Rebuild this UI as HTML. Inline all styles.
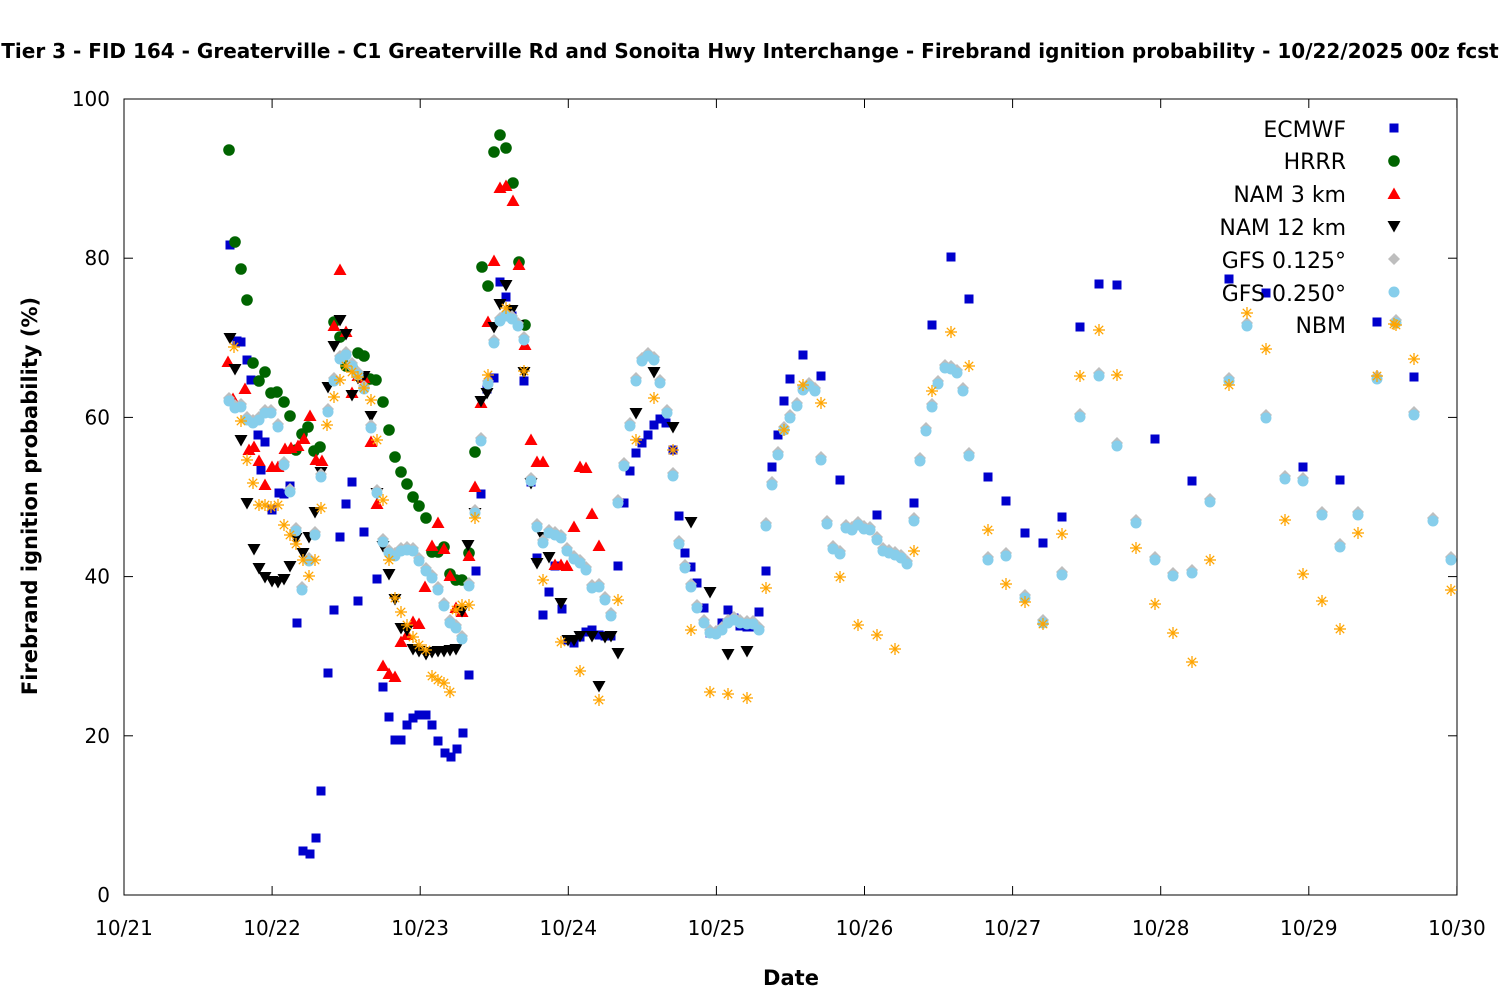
<!DOCTYPE html>
<html><head><meta charset="utf-8"><style>
html,body{margin:0;padding:0;background:#fff;}
svg{display:block;font-family:"DejaVu Sans","Liberation Sans",sans-serif;}
</style></head><body>
<svg id="s" width="1500" height="1000" xmlns="http://www.w3.org/2000/svg">
<rect width="1500" height="1000" fill="#fff"/>
<text x="750" y="58" font-size="20" font-weight="bold" text-anchor="middle">Tier 3 - FID 164 - Greaterville - C1 Greaterville Rd and Sonoita Hwy Interchange - Firebrand ignition probability - 10/22/2025 00z fcst</text>
<rect x="124" y="99" width="1333" height="796" fill="none" stroke="#000" stroke-width="1"/>
<g id="ticks" stroke="#000" stroke-width="1"></g>
<g id="labels" font-size="20" fill="#000"></g>
<text x="791" y="985" font-size="21" font-weight="bold" text-anchor="middle">Date</text>
<text transform="translate(37,496) rotate(-90)" font-size="21" font-weight="bold" text-anchor="middle">Firebrand ignition probability (%)</text>
<g id="data"></g>
<g font-size="22" text-anchor="end">
<text x="1346" y="137">ECMWF</text>
<text x="1346" y="169">HRRR</text>
<text x="1346" y="202">NAM 3 km</text>
<text x="1346" y="235">NAM 12 km</text>
<text x="1346" y="268">GFS 0.125°</text>
<text x="1346" y="301">GFS 0.250°</text>
<text x="1346" y="333">NBM</text>
</g>
<g id="leg"></g>
</svg>
<script>
var NS="http://www.w3.org/2000/svg";
function el(p,t,a){var e=document.createElementNS(NS,t);for(var k in a)e.setAttribute(k,a[k]);p.appendChild(e);return e;}
var tk=document.getElementById('ticks'),lb=document.getElementById('labels');
for(var i=0;i<=5;i++){var y=895-i*159.2;el(tk,'line',{x1:124,y1:y,x2:133,y2:y});el(tk,'line',{x1:1457,y1:y,x2:1448,y2:y});
var t=el(lb,'text',{x:110,y:y+7,'text-anchor':'end'});t.textContent=String(i*20);}
var days=['10/21','10/22','10/23','10/24','10/25','10/26','10/27','10/28','10/29','10/30'];
for(var i=0;i<10;i++){var x=124+i*148.1;el(tk,'line',{x1:x,y1:895,x2:x,y2:886});el(tk,'line',{x1:x,y1:99,x2:x,y2:108});
var t=el(lb,'text',{x:x,y:935,'text-anchor':'middle'});t.textContent=days[i];}
function P(s){return s.trim().split(/\s+/).map(function(q){return q.split(',').map(Number);});}
var g=document.getElementById('data');
function sq(p,x,y,c){el(p,'rect',{x:x-4.5,y:y-4.5,width:9,height:9,fill:c});}
function ci(p,x,y,c){el(p,'circle',{cx:x,cy:y,r:5.8,fill:c});}
function tu(p,x,y,c){el(p,'polygon',{points:(x)+','+(y-6.5)+' '+(x-6.5)+','+(y+5)+' '+(x+6.5)+','+(y+5),fill:c});}
function td(p,x,y,c){el(p,'polygon',{points:(x)+','+(y+6.5)+' '+(x-6.5)+','+(y-5)+' '+(x+6.5)+','+(y-5),fill:c});}
function di(p,x,y,c){el(p,'polygon',{points:x+','+(y-6)+' '+(x+6)+','+y+' '+x+','+(y+6)+' '+(x-6)+','+y,fill:c});}
function pe(p,x,y,c){el(p,'circle',{cx:x,cy:y,r:5.5,fill:c});}
function st(p,x,y,c){var r=6;[[r,0],[0,r],[r*0.7,r*0.7],[r*0.7,-r*0.7]].forEach(function(d){el(p,'line',{x1:x-d[0],y1:y-d[1],x2:x+d[0],y2:y+d[1],stroke:c,'stroke-width':1.3});});}
var ecm=P("230,245 237,341 241,342 247,360 251,380 258,435 261,470 265,442 272,510 279,493 284,494 290,486 297,623 303,851 310,854 316,838 321,791 328,673 334,610 340,537 346,504 352,482 358,601 364,532 377,579 383,687 389,717 395,740 401,740 407,725 413,718 419,715 426,715 432,725 438,741 445,753 451,757 457,749 463,733 469,675 476,571 481,494 487,389 494,378 500,282 506,297 512,316 518,325 524,381 531,482 537,558 543,615 549,592 555,566 562,609 568,640 574,643 580,637 586,632 592,630 599,635 605,636 611,636 618,566 624,503 630,471 636,453 642,443 648,435 654,425 660,419 666,423 673,450 679,516 685,553 691,567 697,583 704,608 710,633 716,633 722,623 728,610 734,618 740,626 747,627 753,627 759,612 766,571 772,467 778,435 784,401 790,379 803,355 821,376 840,480 877,515 914,503 932,325 951,257 969,299 988,477 1006,501 1025,533 1043,543 1062,517 1080,327 1099,284 1117,285 1155,439 1192,481 1229,279 1266,293 1303,467 1340,480 1377,322 1414,377");
var hrrr=P("229,150 235,242 241,269 247,300 253,363 259,381 265,372 271,393 277,392 284,402 290,416 296,450 302,434 308,427 314,451 320,447 334,322 340,337 346,366 352,367 358,353 364,356 370,379 376,380 383,402 389,430 395,457 401,472 407,484 413,497 419,506 426,518 432,552 438,552 444,547 450,574 456,580 462,580 469,553 475,452 482,267 488,286 494,152 500,135 506,148 513,183 519,262 525,325");
var n3=P("228,362 233,399 245,389 249,450 254,447 259,461 265,485 272,467 278,467 285,449 291,448 298,446 304,439 310,416 316,460 322,461 334,326 340,270 346,332 352,393 358,376 364,378 371,442 377,504 383,666 389,674 395,677 401,642 407,635 413,622 419,624 425,587 432,546 438,523 444,549 450,576 456,608 462,612 469,556 475,487 481,403 488,322 494,261 500,188 506,186 513,201 519,265 525,345 531,440 537,462 543,462 555,565 561,565 567,566 574,527 580,467 586,468 592,514 599,546");
var n12=P("230,338 235,369 241,440 247,503 254,549 259,568 265,577 272,581 278,582 284,579 290,566 296,538 303,553 309,537 315,512 321,472 328,387 334,346 340,320 346,334 352,395 358,378 364,376 371,416 377,493 383,546 389,574 395,599 401,628 407,630 413,649 419,651 426,654 432,652 438,651 444,651 450,650 456,649 462,611 468,545 475,513 481,401 487,393 494,327 500,304 506,285 512,310 518,325 524,372 531,483 537,563 543,537 549,557 561,603 568,640 574,640 580,636 592,636 599,686 605,637 611,636 618,653 636,413 654,372 673,427 691,522 710,592 728,654 747,651");
var gfs=P("229,398 235,405 241,404 247,417 253,420 259,417 265,410 271,410 278,424 284,462 290,489 296,528 302,587 309,558 315,532 321,474 328,409 334,378 340,356 346,352 352,363 358,372 364,386 371,425 377,490 383,539 389,550 395,553 401,548 407,547 413,548 419,558 426,568 432,575 438,587 444,603 450,620 456,625 462,636 469,583 475,510 481,438 488,381 494,340 500,318 506,313 512,316 518,323 524,337 531,478 537,524 543,540 549,530 555,532 561,535 567,548 574,556 580,560 586,567 592,585 599,584 605,597 611,613 618,500 624,463 630,423 636,378 642,358 648,353 654,357 660,380 667,410 673,473 679,541 685,565 691,584 697,605 704,620 710,630 716,631 722,627 728,620 734,617 740,620 747,621 753,621 759,627 766,523 772,482 778,452 784,427 790,415 797,403 803,387 809,383 815,388 821,457 827,521 833,546 840,551 846,525 852,527 858,522 864,526 870,527 877,537 883,548 889,550 895,552 901,555 907,561 914,518 920,458 926,428 932,404 938,381 945,365 951,366 957,370 963,388 969,453 988,557 1006,553 1025,595 1043,620 1062,572 1080,414 1099,373 1117,443 1136,520 1155,557 1173,573 1192,570 1210,499 1229,378 1247,323 1266,415 1285,476 1303,478 1322,512 1340,544 1358,512 1377,376 1396,320 1414,412 1433,518 1451,557");
var nbm=P("234,347 241,421 247,460 253,483 259,505 265,505 271,507 278,505 284,525 290,535 296,544 303,560 309,576 315,560 321,508 327,425 334,397 340,380 346,366 352,372 358,377 364,388 371,400 377,440 383,500 389,560 395,598 401,612 407,625 413,637 419,645 426,650 432,676 438,680 444,683 450,692 456,610 462,605 469,605 475,518 488,375 506,308 524,371 543,580 561,642 580,671 599,700 618,600 636,440 654,398 673,450 691,630 710,692 728,694 747,698 766,588 784,430 803,385 821,403 840,577 858,625 877,635 895,649 914,551 932,391 951,332 969,366 988,530 1006,584 1025,602 1043,624 1062,534 1080,376 1099,330 1117,375 1136,548 1155,604 1173,633 1192,662 1210,560 1229,385 1247,313 1266,349 1285,520 1303,574 1322,601 1340,629 1358,533 1377,376 1396,325 1414,359 1451,590");
ecm.forEach(function(p){sq(g,p[0],p[1],'#0000cc');});
hrrr.forEach(function(p){ci(g,p[0],p[1],'#006400');});
n3.forEach(function(p){tu(g,p[0],p[1],'#ff0000');});
n12.forEach(function(p){td(g,p[0],p[1],'#000');});
gfs.forEach(function(p){di(g,p[0],p[1],'#bebebe');});
gfs.forEach(function(p){pe(g,p[0],p[1]+3,'#87ceeb');});
nbm.forEach(function(p){st(g,p[0],p[1],'#ffa500');});
var L=document.getElementById('leg');
sq(L,1394,128,'#0000cc');ci(L,1394,161,'#006400');tu(L,1394,194,'#ff0000');td(L,1394,226,'#000');di(L,1394,259,'#bebebe');pe(L,1394,292,'#87ceeb');st(L,1394,324,'#ffa500');
</script>
</body></html>
